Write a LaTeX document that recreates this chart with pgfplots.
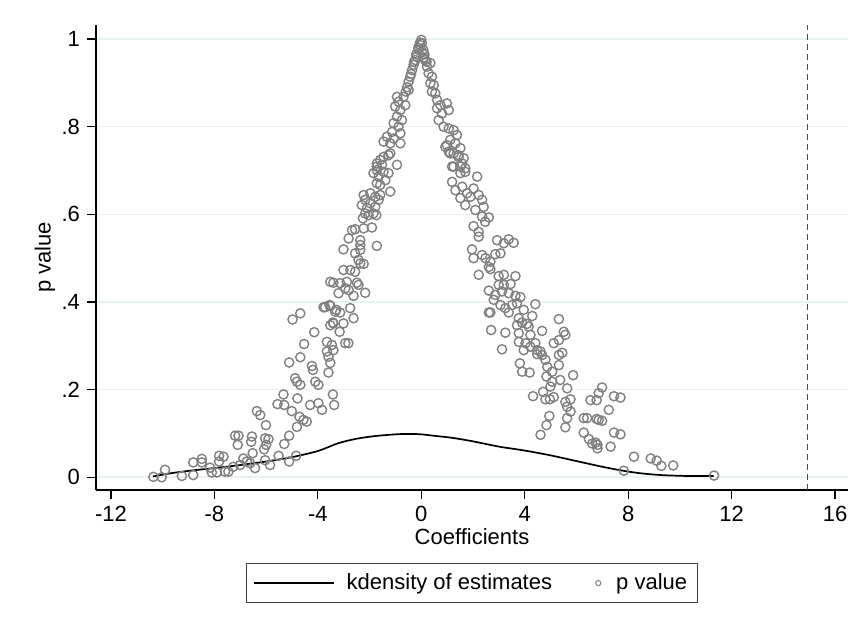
\documentclass[border=0pt]{standalone}
\usepackage{pgfplots}
\pgfplotsset{compat=1.18}
\usepackage{fontspec}
\setmainfont{Liberation Sans}

\definecolor{ptgray}{RGB}{128,128,128}
\definecolor{gridc}{RGB}{234,241,243}
\newcommand{\fs}{\fontsize{11}{13}\selectfont}

\begin{document}
\begin{tikzpicture}
\useasboundingbox (0,0) rectangle (430pt,316pt);
\begin{axis}[
  at={(48pt,71pt)}, anchor=south west,
  scale only axis, width=376pt, height=232.5pt,
  xmin=-12.58, xmax=16.5, ymin=-0.029, ymax=1.032,
  axis lines*=left, axis line style={-, line width=0.6pt},
  xtick={-12,-8,-4,0,4,8,12,16},
  xticklabels={-12,-8,-4,0,4,8,12,16},
  ytick={0,0.2,0.4,0.6,0.8,1},
  yticklabels={0,.2,.4,.6,.8,1},
  tick align=outside, major tick length=4.5pt,
  tick style={black, line width=0.6pt},
  ymajorgrids, grid style={gridc, line width=0.8pt},
  tick label style={font=\fs},
  label style={font=\fs},
  xlabel={Coefficients}, ylabel={p value},
  xlabel style={at={(axis description cs:0.5,-0.101)}, anchor=center},
  ylabel style={at={(axis description cs:-0.068,0.5)}, anchor=center},
  reverse legend,
  legend columns=2,
  legend style={at={(axis description cs:0.5,-0.157)}, anchor=north,
    draw=black!75, line width=0.6pt, font=\fs,
    inner xsep=3pt, inner ysep=3pt,
    /tikz/every even column/.append style={column sep=19.5pt}},
  legend cell align=left,
]
% scatter of p values
\addplot[only marks, mark=o, mark size=2.3pt,
  mark options={draw=ptgray, line width=0.7pt},
  legend image code/.code={\draw[ptgray, line width=0.5pt] (0pt,0pt) circle (1.3pt);
    \path[draw=none, fill=none] (-1.3pt,0pt) -- (7pt,0pt);}]
  table {
x y
-10.36 0.001
-10.04 0.000
-9.91 0.017
-9.26 0.003
-8.82 0.005
-8.82 0.034
-8.49 0.042
-8.49 0.034
-8.17 0.022
-8.10 0.011
-7.91 0.011
-7.82 0.049
-7.65 0.047
-7.82 0.036
-7.59 0.013
-7.46 0.013
-7.27 0.024
-7.20 0.095
-7.07 0.095
-7.10 0.074
-6.88 0.043
-7.01 0.028
-6.75 0.036
-6.55 0.093
-6.58 0.081
-6.52 0.055
-6.62 0.032
-6.43 0.021
-6.36 0.151
-6.23 0.142
-6.01 0.119
-6.04 0.089
-5.91 0.087
-6.00 0.074
-6.08 0.064
-6.04 0.039
-5.85 0.028
-5.52 0.049
-5.56 0.167
-5.33 0.189
-5.30 0.165
-5.30 0.076
-5.11 0.095
-5.11 0.036
-5.01 0.151
-5.11 0.262
-4.98 0.360
-4.68 0.374
-4.81 0.115
-4.84 0.049
-4.88 0.226
-4.81 0.218
-4.68 0.211
-4.68 0.274
-4.79 0.180
-4.71 0.138
-4.53 0.304
-4.56 0.131
-4.43 0.127
-4.30 0.165
-4.23 0.254
-4.19 0.245
-4.10 0.218
-3.98 0.211
-4.14 0.331
-3.98 0.169
-3.84 0.154
-3.65 0.309
-3.65 0.287
-3.59 0.275
-3.52 0.261
-3.59 0.239
-3.42 0.189
-3.37 0.165
-3.72 0.388
-3.52 0.391
-3.33 0.378
-3.40 0.351
-3.52 0.347
-3.46 0.302
-3.40 0.290
-2.94 0.306
-2.82 0.306
-3.78 0.388
-3.55 0.393
-3.29 0.382
-3.14 0.376
-2.75 0.386
-2.62 0.363
-3.16 0.332
-3.42 0.353
-3.01 0.351
-3.52 0.446
-3.40 0.444
-3.14 0.443
-2.88 0.446
-2.49 0.444
-3.20 0.420
-2.94 0.431
-2.81 0.427
-2.62 0.414
-2.43 0.439
-2.17 0.421
-3.01 0.473
-2.75 0.473
-2.56 0.469
-2.36 0.488
-2.23 0.487
-2.43 0.496
-2.56 0.511
-3.01 0.520
-2.81 0.545
-2.68 0.564
-2.56 0.566
-2.36 0.541
-2.36 0.530
-2.36 0.519
-1.72 0.528
-2.23 0.568
-1.91 0.570
-2.26 0.591
-2.17 0.602
-2.04 0.598
-2.30 0.621
-2.17 0.633
-1.97 0.625
-1.78 0.617
-1.65 0.633
-2.23 0.644
-1.97 0.648
-1.78 0.640
-1.59 0.644
-1.85 0.602
-2.10 0.614
-1.74 0.598
-1.20 0.652
-1.59 0.667
-1.72 0.671
-1.39 0.678
-1.65 0.686
-1.85 0.694
-1.72 0.701
-1.46 0.697
-1.27 0.694
-1.72 0.716
-1.52 0.713
-1.46 0.731
-1.27 0.735
-0.94 0.713
-1.20 0.739
0.00 0.998
-0.04 0.986
-0.10 0.975
0.03 0.971
-0.18 0.960
-0.23 0.952
-0.30 0.941
-0.36 0.929
-0.43 0.914
-0.49 0.903
-0.49 0.884
-0.69 0.868
-0.88 0.857
-1.01 0.846
-0.62 0.849
-0.81 0.838
-0.94 0.823
-0.75 0.815
-1.07 0.808
-0.88 0.800
-1.13 0.788
-0.81 0.785
-1.33 0.777
-1.07 0.773
-1.46 0.766
-1.20 0.762
-0.81 0.762
-1.59 0.724
-1.72 0.709
-0.94 0.868
-0.05 0.992
0.02 0.990
-0.12 0.980
-0.20 0.965
-0.28 0.948
-0.40 0.920
-0.55 0.890
-0.60 0.880
0.15 0.952
0.22 0.937
0.35 0.945
0.28 0.922
0.41 0.914
0.35 0.899
0.48 0.895
0.41 0.880
0.54 0.876
0.61 0.861
0.74 0.849
0.61 0.842
0.99 0.853
0.80 0.830
1.06 0.838
0.67 0.815
0.86 0.800
1.06 0.796
1.25 0.792
1.38 0.781
1.12 0.770
1.32 0.762
0.93 0.754
1.51 0.751
1.06 0.743
1.25 0.739
1.44 0.731
1.64 0.728
1.19 0.709
1.51 0.709
1.70 0.705
0.08 0.975
0.12 0.965
0.10 0.958
0.20 0.948
0.99 0.758
1.12 0.739
1.44 0.735
1.25 0.709
1.58 0.716
1.19 0.674
1.51 0.694
1.70 0.697
2.16 0.686
1.32 0.655
1.58 0.663
1.77 0.648
2.02 0.659
1.90 0.640
1.51 0.637
1.70 0.621
2.22 0.644
2.35 0.633
2.09 0.610
2.41 0.617
2.35 0.595
2.61 0.593
2.47 0.583
2.02 0.573
2.22 0.560
2.22 0.549
2.93 0.541
3.19 0.534
3.38 0.543
3.57 0.535
1.96 0.520
2.02 0.500
2.35 0.507
2.48 0.500
2.67 0.492
2.86 0.509
3.06 0.511
2.61 0.480
2.67 0.475
2.22 0.462
2.99 0.459
3.19 0.462
3.64 0.459
2.99 0.439
3.19 0.439
3.45 0.441
2.61 0.426
2.86 0.416
3.12 0.424
3.38 0.420
3.64 0.414
3.83 0.411
2.80 0.405
3.06 0.393
3.25 0.386
3.51 0.393
3.70 0.397
3.96 0.382
4.41 0.395
2.61 0.376
3.38 0.376
3.77 0.363
4.29 0.368
5.32 0.361
2.67 0.376
2.70 0.336
3.12 0.292
3.25 0.330
3.70 0.347
3.90 0.353
4.09 0.350
4.15 0.344
3.77 0.329
4.22 0.325
4.67 0.334
3.77 0.309
4.03 0.306
4.22 0.298
3.96 0.290
4.41 0.306
4.48 0.290
4.61 0.287
4.48 0.281
4.67 0.279
4.80 0.268
5.12 0.306
5.32 0.313
5.51 0.332
5.57 0.325
5.32 0.279
5.45 0.284
3.81 0.260
3.90 0.241
4.19 0.239
4.87 0.252
5.06 0.241
5.32 0.256
4.84 0.230
5.06 0.218
4.99 0.207
5.37 0.222
5.87 0.233
5.64 0.203
4.71 0.195
4.32 0.185
4.80 0.178
4.97 0.178
5.12 0.183
5.77 0.178
5.57 0.172
5.64 0.161
5.77 0.150
5.64 0.135
5.57 0.114
4.95 0.140
4.84 0.119
4.61 0.097
6.28 0.135
6.41 0.135
6.86 0.131
6.99 0.129
6.78 0.133
6.54 0.176
6.78 0.176
6.86 0.192
6.99 0.205
7.45 0.185
7.70 0.182
7.25 0.154
6.28 0.102
6.48 0.087
6.74 0.079
6.81 0.074
6.61 0.077
6.81 0.066
7.32 0.070
7.45 0.102
7.70 0.098
8.22 0.047
8.87 0.043
9.10 0.038
9.28 0.026
9.74 0.027
7.83 0.015
11.32 0.004
};
\addlegendentry{p value}
% kernel density of estimates
\addplot[black, line width=0.85pt, smooth,
  legend image code/.code={\draw[black, line width=0.85pt] (0pt,0pt) -- (40pt,0pt);
    \path[draw=none, fill=none] (40pt,0pt) -- (44.5pt,0pt);}]
  coordinates {
  (-10.38,0.002) (-9.6,0.010) (-8.8,0.016) (-8.0,0.021) (-7.0,0.028)
  (-6.0,0.036) (-5.0,0.046) (-4.0,0.060) (-3.2,0.078) (-2.5,0.088)
  (-1.8,0.094) (-1.0,0.098) (-0.5,0.099) (0.0,0.098) (0.6,0.094)
  (1.2,0.090) (2.0,0.082) (3.0,0.070) (4.0,0.061) (5.0,0.050)
  (6.0,0.037) (7.0,0.024) (7.8,0.015) (8.5,0.009) (9.3,0.005)
  (10.3,0.003) (11.3,0.003)};
\addlegendentry{kdensity of estimates}
% reference line
\addplot[black!70, line width=0.6pt, dash pattern=on 3pt off 2pt, forget plot]
  coordinates {(14.93,-0.029) (14.93,1.032)};
\end{axis}
\end{tikzpicture}
\end{document}
